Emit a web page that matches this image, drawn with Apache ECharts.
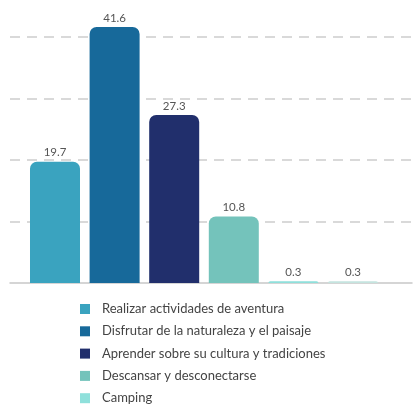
<!DOCTYPE html>
<html>
<head>
<meta charset="utf-8">
<script src="https://cdn.jsdelivr.net/npm/echarts@6/dist/echarts.min.js"></script>
<style>html,body{margin:0;padding:0;background:#fff;}#c{width:414px;height:410px;}</style>
</head>
<body>
<div id="c"></div>
<script>
var categories = ['Realizar actividades de aventura', 'Disfrutar de la naturaleza y el paisaje', 'Aprender sobre su cultura y tradiciones', 'Descansar y desconectarse', 'Camping', 'Otros'];
var values = [19.7, 41.6, 27.3, 10.8, 0.3, 0.3];
var legendItems = ['Realizar actividades de aventura', 'Disfrutar de la naturaleza y el paisaje', 'Aprender sobre su cultura y tradiciones', 'Descansar y desconectarse', 'Camping'];
var colors = ['#3aa3bf', '#17699a', '#212f6c', '#74c3bb', '#8fe0db', '#c5e4df'];

var chart = echarts.init(document.getElementById('c'));
var series = categories.map(function (name, i) {
  return {
    name: name,
    type: 'bar',
    barWidth: 50,
    barGap: '-100%',
    data: [[i + 1, values[i]]],
    itemStyle: { color: colors[i], borderRadius: [7, 7, 0, 0] },
    label: {
      show: true, position: 'top', distance: 3,
      color: '#555', fontFamily: 'Lato', fontSize: 11.5,
      formatter: function (p) { return p.value[1].toFixed(1); }
    }
  };
});
chart.setOption({
  animation: false,
  color: colors,
  grid: { left: 10, right: 2, top: 6, bottom: 127 },
  xAxis: {
    type: 'value', min: 0.245, max: 6.99,
    axisLine: { show: true, lineStyle: { color: '#c8c8c8', width: 1.5 } },
    axisTick: { show: false }, axisLabel: { show: false }, splitLine: { show: false }
  },
  yAxis: {
    type: 'value', min: 0, max: 45, interval: 10,
    axisLine: { show: false }, axisTick: { show: false }, axisLabel: { show: false },
    splitLine: { show: true, showMinLine: false, showMaxLine: false, lineStyle: { color: '#cdcdcd', width: 1.5, type: [10, 7] } }
  },
  legend: {
    data: legendItems,
    orient: 'vertical', left: 80, top: 302, height: 110,
    itemWidth: 10, itemHeight: 10, itemGap: 8.3,
    icon: 'rect', padding: 0,
    textStyle: { fontFamily: 'Lato', fontSize: 13, lineHeight: 14, color: '#444', padding: [0, 0, 0, 7] },
    selectedMode: false
  },
  series: series
});
</script>
</body>
</html>
